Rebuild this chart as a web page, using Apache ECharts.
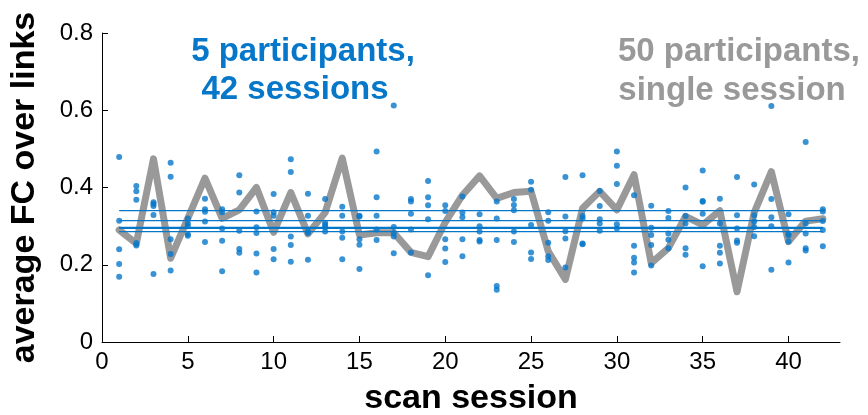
<!DOCTYPE html>
<html>
<head>
<meta charset="utf-8">
<script src="https://cdn.jsdelivr.net/npm/echarts@6/dist/echarts.min.js"></script>
<style>
  html, body { margin: 0; padding: 0; background: #fff; }
  #chart { width: 868px; height: 415px; }
</style>
</head>
<body>
<div id="chart"></div>
<script>
// Session numbers 1..42
const sessions = Array.from({ length: 42 }, (_, i) => i + 1);

// Average FC of the single-session group (one value per session)
const singleSessionFC = [
  0.290, 0.255, 0.474, 0.217, 0.320, 0.424, 0.320, 0.342, 0.400, 0.284,
  0.387, 0.280, 0.335, 0.476, 0.277, 0.283, 0.283, 0.232, 0.221, 0.310,
  0.380, 0.430, 0.372, 0.387, 0.390, 0.235, 0.162, 0.346, 0.390, 0.342,
  0.433, 0.204, 0.243, 0.325, 0.303, 0.340, 0.130, 0.335, 0.441, 0.260,
  0.313, 0.319
];

// Average FC of the five repeatedly scanned participants, per session
const participantFC = [
  [0.479, 0.314, 0.240, 0.202, 0.169],
  [0.404, 0.390, 0.368, 0.256, 0.250],
  [0.362, 0.357, 0.352, 0.329, 0.176],
  [0.464, 0.428, 0.266, 0.228, 0.185],
  [0.320, 0.307, 0.300, 0.279, 0.275],
  [0.371, 0.344, 0.337, 0.312, 0.259],
  [0.344, 0.336, 0.294, 0.262, 0.183],
  [0.432, 0.387, 0.288, 0.241, 0.231],
  [0.338, 0.297, 0.282, 0.229, 0.180],
  [0.383, 0.336, 0.327, 0.241, 0.214],
  [0.473, 0.440, 0.273, 0.251, 0.208],
  [0.384, 0.327, 0.286, 0.282, 0.213],
  [0.370, 0.309, 0.303, 0.297, 0.286],
  [0.350, 0.327, 0.286, 0.270, 0.214],
  [0.327, 0.325, 0.266, 0.252, 0.189],
  [0.493, 0.375, 0.327, 0.291, 0.264],
  [0.612, 0.298, 0.282, 0.273, 0.230],
  [0.370, 0.364, 0.332, 0.291, 0.232],
  [0.417, 0.375, 0.354, 0.318, 0.173],
  [0.354, 0.339, 0.266, 0.242, 0.207],
  [0.377, 0.335, 0.323, 0.266, 0.222],
  [0.331, 0.300, 0.286, 0.264, 0.260],
  [0.364, 0.320, 0.264, 0.145, 0.135],
  [0.370, 0.355, 0.341, 0.286, 0.259],
  [0.415, 0.394, 0.303, 0.232, 0.215],
  [0.336, 0.314, 0.257, 0.222, 0.212],
  [0.427, 0.325, 0.287, 0.268, 0.193],
  [0.432, 0.326, 0.320, 0.255, 0.253],
  [0.391, 0.352, 0.318, 0.307, 0.288],
  [0.493, 0.456, 0.409, 0.305, 0.294],
  [0.380, 0.249, 0.218, 0.206, 0.180],
  [0.353, 0.296, 0.277, 0.251, 0.198],
  [0.339, 0.321, 0.281, 0.265, 0.243],
  [0.400, 0.326, 0.307, 0.243, 0.226],
  [0.444, 0.365, 0.363, 0.332, 0.196],
  [0.371, 0.307, 0.249, 0.231, 0.203],
  [0.427, 0.328, 0.294, 0.263, 0.257],
  [0.408, 0.328, 0.312, 0.298, 0.274],
  [0.611, 0.370, 0.323, 0.300, 0.187],
  [0.331, 0.281, 0.276, 0.260, 0.206],
  [0.518, 0.307, 0.281, 0.243, 0.237],
  [0.344, 0.338, 0.313, 0.290, 0.248]
];

// Mean level of each of the five participants across all sessions
const participantMeans = [0.340, 0.314, 0.297, 0.294, 0.286];

const yTicks = [0, 0.2, 0.4, 0.6, 0.8];

const BLUE = '#0677C9';
const GREY = '#999999';
const FONT = '"Liberation Sans", Arial, Helvetica, sans-serif';

const scatterData = [];
participantFC.forEach((vals, i) => {
  vals.forEach(v => scatterData.push([sessions[i], v]));
});

const meanLines = participantMeans.map(m => ({
  type: 'line',
  data: [[sessions[0], m], [sessions[sessions.length - 1], m]],
  symbol: 'none',
  silent: true,
  z: 3,
  lineStyle: { color: BLUE, width: 1.2 },
  animation: false
}));

function label(text, x, y, color) {
  return {
    type: 'text', z: 10, position: [x, y],
    style: {
      text: text,
      font: 'bold 33px ' + FONT,
      fill: color,
      align: 'center',
      verticalAlign: 'middle'
    }
  };
}

const chart = echarts.init(document.getElementById('chart'), null, { renderer: 'canvas' });

chart.setOption({
  animation: false,
  backgroundColor: '#fff',
  grid: {
    left: 102, right: 28, top: 33, bottom: 73,
    containLabel: false,
    outerBoundsMode: 'none'
  },
  xAxis: {
    type: 'value',
    min: 0,
    max: 43,
    interval: 5,
    name: 'scan session',
    nameLocation: 'middle',
    nameGap: 40,
    nameTextStyle: { fontFamily: FONT, fontWeight: 'bold', fontSize: 34, color: '#000' },
    axisLine: { show: true, lineStyle: { color: '#000', width: 1 } },
    axisTick: { show: true, inside: true, length: 6, lineStyle: { color: '#000' } },
    axisLabel: {
      fontFamily: FONT, fontSize: 24, color: '#000', margin: 8,
      showMaxLabel: false,
      formatter: v => (v % 5 === 0 && v <= 40 ? String(v) : '')
    },
    splitLine: { show: false }
  },
  yAxis: {
    type: 'value',
    min: 0,
    max: 0.8,
    interval: 0.2,
    name: 'average FC over links',
    nameLocation: 'middle',
    nameRotate: 90,
    nameGap: 60,
    nameTextStyle: { fontFamily: FONT, fontWeight: 'bold', fontSize: 34, color: '#000' },
    axisLine: { show: true, lineStyle: { color: '#000', width: 1 } },
    axisTick: { show: true, inside: true, length: 6, lineStyle: { color: '#000' } },
    axisLabel: {
      fontFamily: FONT, fontSize: 24, color: '#000', margin: 9,
      formatter: v => {
        const t = yTicks.find(k => Math.abs(k - v) < 1e-9);
        return t === 0 ? '0' : String(t);
      }
    },
    splitLine: { show: false }
  },
  series: [
    {
      type: 'line',
      data: sessions.map((s, i) => [s, singleSessionFC[i]]),
      symbol: 'none',
      z: 2,
      lineStyle: { color: GREY, width: 7, join: 'round', cap: 'round' }
    },
    ...meanLines,
    {
      type: 'scatter',
      data: scatterData,
      symbol: 'circle',
      symbolSize: 6,
      z: 4,
      itemStyle: { color: BLUE }
    }
  ],
  graphic: [
    label('5 participants,', 303, 52, BLUE),
    label('42 sessions', 295, 90, BLUE),
    label('50 participants,', 739, 52, GREY),
    label('single session', 732, 91, GREY)
  ]
});
</script>
</body>
</html>
